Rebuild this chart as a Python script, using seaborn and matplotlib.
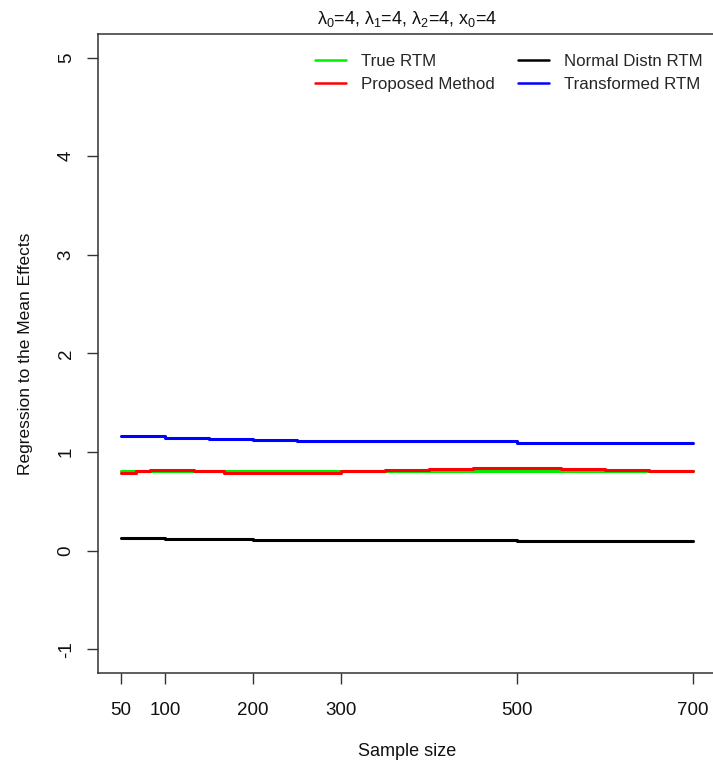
import numpy as np
import pandas as pd
import seaborn as sns
import matplotlib
matplotlib.use("Agg")
import matplotlib.pyplot as plt

# Sample sizes and estimated regression-to-the-mean effects
n_grid = [50, 100, 150, 200, 250, 300, 350, 400, 450, 500, 550, 600, 650, 700]
true_rtm = [0.812, 0.812, 0.812, 0.812, 0.812, 0.812, 0.812, 0.812, 0.812,
            0.812, 0.812, 0.812, 0.812, 0.812]
normal_rtm = [0.132, 0.122, 0.122, 0.112, 0.112, 0.112, 0.112, 0.112, 0.112,
              0.098, 0.098, 0.098, 0.098, 0.098]
transformed_rtm = [1.159, 1.146, 1.133, 1.123, 1.109, 1.109, 1.109, 1.109, 1.109,
                   1.095, 1.095, 1.095, 1.095, 1.095]

n_proposed = [50, 66.7, 83.3, 133.3, 166.7, 300, 350, 400, 450, 500, 550, 600, 650, 700]
proposed = [0.791, 0.804, 0.814, 0.804, 0.791, 0.804, 0.814, 0.825, 0.839,
            0.839, 0.825, 0.814, 0.804, 0.804]

series_names = ["True RTM", "Proposed Method", "Normal Distn RTM", "Transformed RTM"]
series_colors = ["#00ee00", "#ff0000", "#000000", "#0000ff"]
x_ticks = [50, 100, 200, 300, 500, 700]
y_ticks = [-1, 0, 1, 2, 3, 4, 5]

frames = [
    pd.DataFrame({"n": n_grid, "rtm": true_rtm, "method": series_names[0]}),
    pd.DataFrame({"n": n_proposed, "rtm": proposed, "method": series_names[1]}),
    pd.DataFrame({"n": n_grid, "rtm": normal_rtm, "method": series_names[2]}),
    pd.DataFrame({"n": n_grid, "rtm": transformed_rtm, "method": series_names[3]}),
]
df = pd.concat(frames, ignore_index=True)

sns.set_style("white")
plt.rcParams["font.family"] = ["Liberation Sans", "DejaVu Sans"]
plt.rcParams["mathtext.fontset"] = "custom"
plt.rcParams["mathtext.rm"] = "Liberation Sans"
plt.rcParams["mathtext.it"] = "Liberation Sans"

fig = plt.figure(figsize=(7.13, 7.63), dpi=100)
ax = fig.add_axes([0.1379, 0.118, 0.866, 0.8374])

sns.lineplot(data=df, x="n", y="rtm", hue="method", hue_order=series_names,
             palette=series_colors, drawstyle="steps-post", linewidth=2.2,
             estimator=None, sort=True, ax=ax)

ax.set_xlim(24, 726)
ax.set_ylim(-1.24, 5.24)
ax.set_xticks(x_ticks)
ax.set_yticks(y_ticks)
ax.set_yticklabels([str(v) for v in y_ticks], rotation=90, va="center")
ax.tick_params(axis="both", direction="out", length=8, width=1, color="#333333",
               labelsize=13.5, labelcolor="#111111", bottom=True, left=True)
ax.tick_params(axis="x", pad=13)
ax.tick_params(axis="y", pad=9)
for side in ["left", "bottom", "top", "right"]:
    ax.spines[side].set_visible(True)
    ax.spines[side].set_color("#333333")
    ax.spines[side].set_linewidth(1.1)

ax.set_xlabel("Sample size", fontsize=13, labelpad=17, color="#111111")
ax.set_ylabel("Regression to the Mean Effects", fontsize=12.5, labelpad=18, color="#111111")
ax.set_title(r"$\mathregular{\lambda_0}$=4, $\mathregular{\lambda_1}$=4, "
             r"$\mathregular{\lambda_2}$=4, x$_\mathregular{0}$=4",
             fontsize=13, pad=7, color="#111111")

handles, labels = ax.get_legend_handles_labels()
leg = ax.legend(handles, labels, ncol=2, frameon=False, fontsize=12.2,
                loc="upper left", bbox_to_anchor=(0.351, 0.969),
                borderpad=0, borderaxespad=0,
                handlelength=1.8, handletextpad=0.9, columnspacing=1.4,
                labelspacing=0.5)
for line in leg.get_lines():
    line.set_linewidth(1.8)

fig.savefig("out.png", dpi=100)
